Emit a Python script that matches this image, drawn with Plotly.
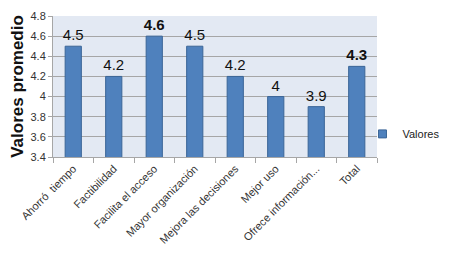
import plotly.graph_objects as go

categories = ["Ahorró  tiempo", "Factibilidad", "Facilita el acceso", "Mayor organización",
              "Mejora las decisiones", "Mejor uso", "Ofrece información...", "Total"]
values = [4.5, 4.2, 4.6, 4.5, 4.2, 4.0, 3.9, 4.3]
bold_labels = [False, False, True, False, False, False, False, True]
series_name = "Valores"
y_ticks = [3.4, 3.6, 3.8, 4.0, 4.2, 4.4, 4.6, 4.8]

labels = [f"<b>{v:g}</b>" if b else f"{v:g}" for v, b in zip(values, bold_labels)]

fig = go.Figure()
fig.add_trace(go.Bar(
    x=categories, y=values, name=series_name,
    marker=dict(color="#4f81bd", line=dict(color="#3a6597", width=1)),
    text=labels, textposition="outside", cliponaxis=False, constraintext="none",
    textfont=dict(family="Liberation Sans, Arial", size=15, color="#111111"),
    width=0.4, showlegend=False,
))
# legend entry with a small square swatch, as in the reference
fig.add_trace(go.Scatter(
    x=[None], y=[None], mode="markers", name=series_name,
    marker=dict(symbol="square", size=8, color="#4f81bd", line=dict(color="#3a6597", width=1)),
    showlegend=True, hoverinfo="skip",
))
fig.update_layout(
    width=442, height=258,
    margin=dict(l=45, r=73, t=8, b=109, autoexpand=False),
    paper_bgcolor="white", plot_bgcolor="#e3e9f3",
    font=dict(family="Liberation Sans, Arial", color="#222222"),
    legend=dict(xref="container", yref="container", x=0.802, y=0.512,
                xanchor="left", yanchor="middle",
                font=dict(size=11, family="Liberation Sans, Arial", color="#222222"),
                bgcolor="rgba(0,0,0,0)", itemwidth=30),
    yaxis=dict(range=[3.4, 4.8], tickvals=y_ticks, ticktext=[f"{t:g}" for t in y_ticks],
               showgrid=True, gridcolor="#a6a6a6", gridwidth=1,
               showline=True, linecolor="#a6a6a6", ticks="outside", ticklen=4,
               tickcolor="#a6a6a6", zeroline=False,
               tickfont=dict(size=11, color="#333333"),
               title=dict(text="<b>Valores promedio</b>", font=dict(size=17, color="#111111"), standoff=2)),
    xaxis=dict(showline=True, linecolor="#a6a6a6", tickangle=-45,
               ticks="outside", ticklen=5, tickcolor="#a6a6a6", tickson="boundaries",
               tickfont=dict(size=11, color="#333333")),
    bargap=0.6,
)
fig.write_html("out.html")
